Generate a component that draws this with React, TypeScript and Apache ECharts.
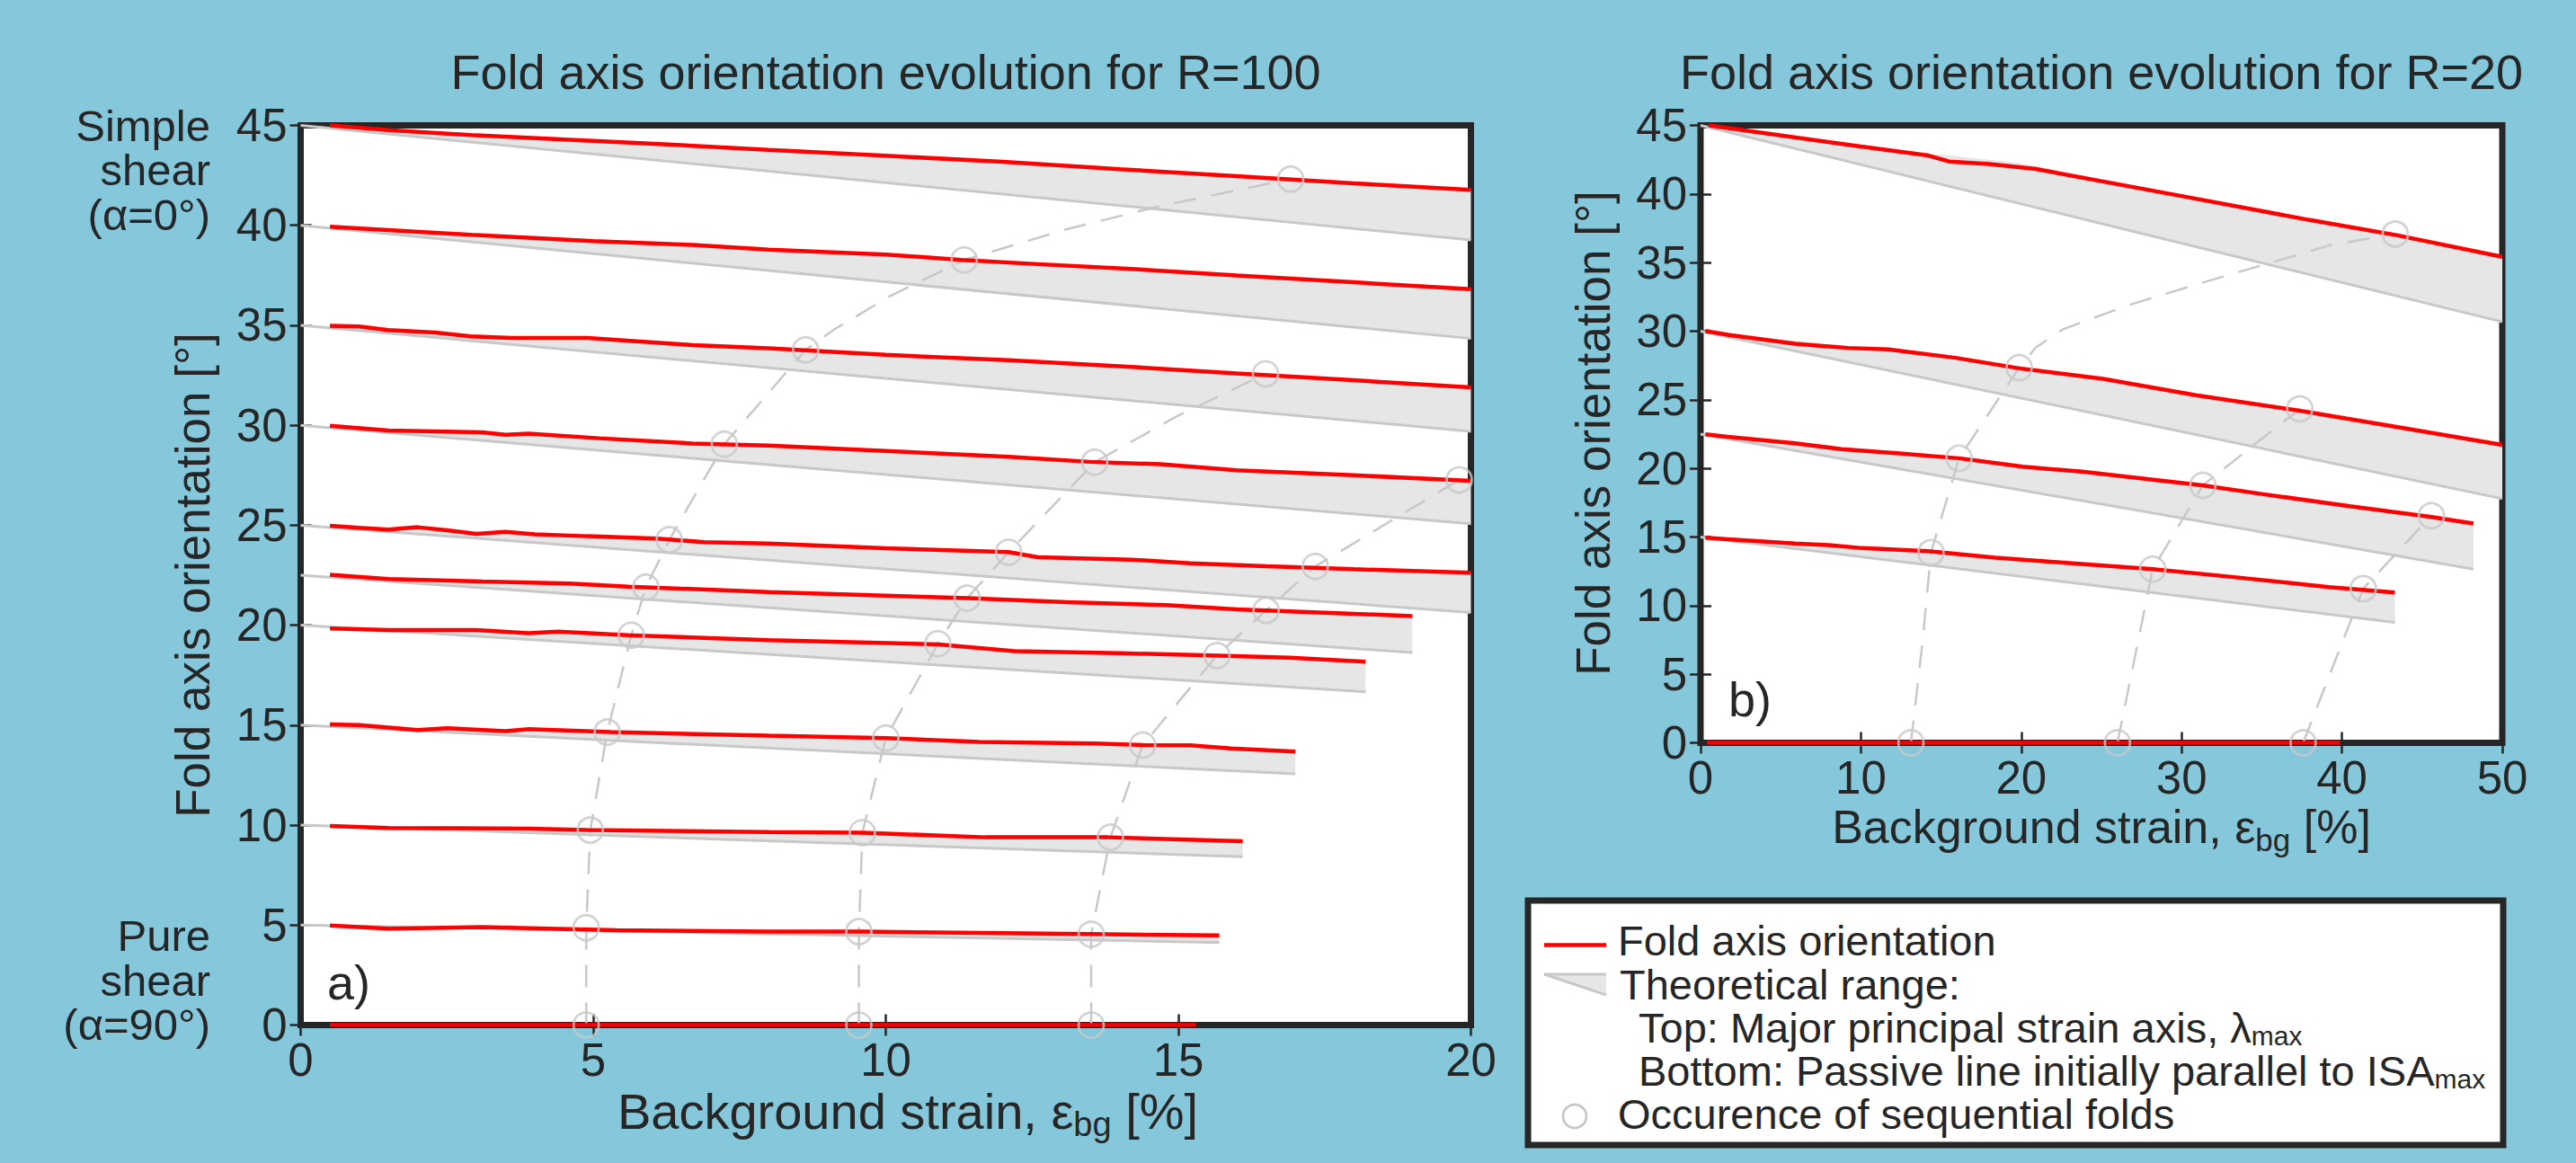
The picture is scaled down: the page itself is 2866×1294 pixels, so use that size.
import React, { useEffect, useRef } from "react";
import * as echarts from "echarts";

const FONT = "'Liberation Sans', Arial, Helvetica, sans-serif";
const INK = "#262626";
const RED = "#ff0000";
const GREY_LINE = "#c8c8c8";
const GREY_FILL = "#e6e6e6";
const BG = "#86c8db";

// ---------------- Panel a) R = 100 ----------------
const A_X_TICKS = [0, 5, 10, 15, 20];
const A_Y_TICKS = [0, 5, 10, 15, 20, 25, 30, 35, 40, 45];

// Fold axis orientation (red), one list per initial angle
const A_FOLD_45 = [[0.5, 45], [1.5, 44.76], [3, 44.5], [5, 44.23], [6.7, 43.98], [8, 43.78], [10, 43.48], [12, 43.18], [14, 42.81], [16, 42.46], [18, 42.1], [20, 41.77]];
const A_FOLD_40 = [[0.5, 39.93], [3, 39.51], [5, 39.21], [6.7, 39.02], [8, 38.79], [10, 38.54], [11.3, 38.27], [12.6, 38.06], [14.2, 37.82], [16, 37.49], [18, 37.15], [20, 36.81]];
const A_FOLD_35 = [[0.5, 34.98], [1, 34.94], [1.5, 34.76], [2.3, 34.64], [2.9, 34.45], [3.6, 34.37], [4.9, 34.37], [5.4, 34.27], [6.7, 34.01], [8, 33.85], [10, 33.52], [12.1, 33.26], [14.2, 32.92], [16, 32.59], [18, 32.25], [20, 31.9]];
const A_FOLD_30 = [[0.5, 29.97], [1.5, 29.74], [3.1, 29.65], [3.5, 29.52], [3.9, 29.58], [5.1, 29.35], [6.7, 29.09], [8, 28.99], [10, 28.72], [12.1, 28.42], [13.5, 28.17], [14.7, 28.05], [16, 27.75], [18, 27.5], [20, 27.22]];
const A_FOLD_25 = [[0.5, 24.97], [1, 24.87], [1.5, 24.78], [2, 24.9], [2.5, 24.75], [3, 24.57], [3.5, 24.67], [4, 24.55], [4.9, 24.45], [6.1, 24.33], [6.9, 24.15], [8, 24.08], [10, 23.85], [12.1, 23.66], [12.6, 23.4], [14.2, 23.28], [15.2, 23.1], [16.5, 22.95], [18, 22.8], [20, 22.62]];
const A_FOLD_22 = [[0.5, 22.52], [1.5, 22.31], [3.1, 22.19], [4.6, 22.08], [5.6, 21.93], [8, 21.66], [11.4, 21.35], [13.1, 21.15], [14.8, 21.0], [16, 20.79], [17, 20.68], [19, 20.46]];
const A_FOLD_20 = [[0.5, 19.84], [1.5, 19.76], [3, 19.76], [3.9, 19.6], [4.4, 19.68], [5.6, 19.5], [8, 19.25], [10.9, 19.04], [12.2, 18.7], [14, 18.6], [15.7, 18.48], [16.9, 18.37], [18.2, 18.17]];
const A_FOLD_15 = [[0.5, 15.04], [1, 15.0], [2, 14.76], [2.5, 14.85], [3.5, 14.7], [3.9, 14.8], [5.3, 14.65], [8, 14.47], [10, 14.35], [11.6, 14.16], [13.6, 14.08], [14.4, 14.0], [15.2, 13.99], [15.9, 13.83], [17, 13.68]];
const A_FOLD_10 = [[0.5, 9.96], [1.5, 9.86], [3.9, 9.82], [4.9, 9.75], [8, 9.65], [9.6, 9.62], [11.7, 9.39], [13.8, 9.39], [16.1, 9.19]];
const A_FOLD_5 = [[0.5, 4.98], [1.5, 4.82], [3.1, 4.9], [5.4, 4.74], [8, 4.67], [9.6, 4.67], [13.5, 4.55], [15.7, 4.48]];
const A_FOLD_0 = [[0.5, 0], [15.3, 0]];
const A_FOLD = [A_FOLD_45, A_FOLD_40, A_FOLD_35, A_FOLD_30, A_FOLD_25, A_FOLD_22, A_FOLD_20, A_FOLD_15, A_FOLD_10, A_FOLD_5, A_FOLD_0];

// Theoretical range: top = major principal strain axis, bottom = passive line
const A_RANGE_TOP = [
  [[0, 45], [20, 41.8]],
  [[0, 40], [20, 36.85]],
  [[0, 35], [20, 31.95]],
  [[0, 30], [20, 27.25]],
  [[0, 25], [20, 22.65]],
  [[0, 22.5], [19, 20.5]],
  [[0, 20], [18.2, 18.2]],
  [[0, 15], [17, 13.7]],
  [[0, 10], [16.1, 9.2]],
  [[0, 5], [15.7, 4.5]],
];
const A_RANGE_BOTTOM = [
  [[0, 45], [20, 39.27]],
  [[0, 40], [20, 34.34]],
  [[0, 35], [20, 29.69]],
  [[0, 30], [20, 25.07]],
  [[0, 25], [20, 20.63]],
  [[0, 22.5], [19, 18.63]],
  [[0, 20], [18.2, 16.67]],
  [[0, 15], [17, 12.56]],
  [[0, 10], [16.1, 8.42]],
  [[0, 5], [15.7, 4.13]],
];

// Occurrence of sequential folds (circles) and the dashed paths through them
const A_SEQ_1 = [[4.88, 0], [4.88, 4.87], [4.95, 9.75], [5.24, 14.65], [5.65, 19.5], [5.9, 21.9], [6.3, 24.27], [7.24, 29.05], [8.63, 33.77], [11.34, 38.27], [16.92, 42.31]];
const A_SEQ_2 = [[9.54, 0], [9.54, 4.67], [9.6, 9.62], [10.0, 14.35], [10.89, 19.07], [11.39, 21.35], [12.1, 23.65], [13.57, 28.15], [16.49, 32.57]];
const A_SEQ_3 = [[13.51, 0], [13.51, 4.54], [13.84, 9.39], [14.39, 14.0], [15.66, 18.48], [16.5, 20.74], [17.34, 22.94], [19.8, 27.27]];
const A_PATH_1 = [[4.88, 0], [4.88, 4.87], [4.95, 9.75], [5.24, 14.65], [5.65, 19.5], [5.9, 21.9], [6.3, 24.27], [7.24, 29.05], [8.63, 33.77], [9.1, 34.76], [10.06, 36.44], [11.34, 38.27], [13.08, 39.8], [14.64, 40.93], [16.92, 42.31]];
const A_PATH_2 = [[9.54, 0], [9.54, 4.67], [9.6, 9.62], [10.0, 14.35], [10.89, 19.07], [11.39, 21.35], [12.1, 23.65], [13.57, 28.15], [14.97, 30.44], [16.49, 32.57]];
const A_PATH_3 = [[13.51, 0], [13.51, 4.54], [13.84, 9.39], [14.39, 14.0], [15.66, 18.48], [16.5, 20.74], [17.34, 22.94], [19.8, 27.27]];

// ---------------- Panel b) R = 20 ----------------
const B_X_TICKS = [0, 10, 20, 30, 40, 50];
const B_Y_TICKS = [0, 5, 10, 15, 20, 25, 30, 35, 40, 45];

const B_FOLD_45 = [[0.5, 45], [10, 43.46], [14.2, 42.8], [15.5, 42.37], [18, 42.19], [20.9, 41.82], [30, 39.85], [38, 38.1], [43.4, 37.0], [50, 35.42]];
const B_FOLD_30 = [[0.3, 30.02], [1.7, 29.74], [5.9, 29.08], [9.2, 28.78], [11.7, 28.67], [15.9, 28.06], [19.9, 27.29], [25.1, 26.53], [30.9, 25.33], [37.2, 24.23], [43.4, 23.03], [50, 21.72]];
const B_FOLD_22 = [[0.3, 22.49], [1.7, 22.31], [5.9, 21.83], [8.8, 21.4], [12.6, 21.07], [16.1, 20.74], [20.1, 20.13], [23.8, 19.76], [31.3, 18.77], [35.1, 18.12], [40.5, 17.25], [45.5, 16.48], [48.2, 15.98]];
const B_FOLD_15 = [[0.3, 14.95], [1.7, 14.84], [5.9, 14.52], [8, 14.41], [10.1, 14.19], [14.2, 13.97], [18.4, 13.49], [22.6, 13.14], [28.2, 12.66], [33, 12.11], [39.2, 11.35], [43.3, 10.96]];
const B_FOLD_0 = [[0.4, 0], [39.9, 0]];
const B_FOLD = [B_FOLD_45, B_FOLD_30, B_FOLD_22, B_FOLD_15, B_FOLD_0];

const B_RANGE_TOP = [
  [[0, 45], [10, 43.5], [20, 42.25], [30, 39.9], [40, 37.7], [50, 35.42]],
  [[0, 30], [10, 28.8], [20, 27.3], [30, 25.5], [40, 23.6], [50, 21.72]],
  [[0, 22.5], [10, 21.3], [20, 20.1], [30, 18.9], [40, 17.3], [48.2, 15.98]],
  [[0, 15], [10, 14.2], [20, 13.35], [30, 12.5], [43.3, 10.96]],
];
const B_RANGE_BOTTOM = [
  [[0, 45], [50, 30.68]],
  [[0, 30], [50, 17.79]],
  [[0, 22.5], [48.2, 12.66]],
  [[0, 15], [43.3, 8.77]],
];

const B_SEQ_1 = [[13.12, 0], [14.37, 13.86], [16.12, 20.74], [19.87, 27.34], [43.33, 37.08]];
const B_SEQ_2 = [[26.0, 0], [28.2, 12.66], [31.33, 18.77], [37.37, 24.34]];
const B_SEQ_3 = [[37.58, 0], [41.33, 11.24], [45.58, 16.55]];
const B_PATH_1 = [[13.12, 0], [13.83, 7.2], [14.37, 13.86], [16.12, 20.74], [19.87, 27.34], [20.9, 28.8], [22.58, 30.13], [26.7, 31.9], [30.9, 33.4], [35.1, 34.83], [39.2, 36.25], [43.33, 37.08]];
const B_PATH_2 = [[26.0, 0], [28.2, 12.66], [31.33, 18.77], [37.37, 24.34]];
const B_PATH_3 = [[37.58, 0], [41.33, 11.24], [45.58, 16.55]];

// ---------------- texts ----------------
const TITLE_A = "Fold axis orientation evolution for R=100";
const TITLE_B = "Fold axis orientation evolution for R=20";
const Y_LABEL = "Fold axis orientation [°]";
const X_LABEL_MAIN = "Background strain, ε";
const X_LABEL_SUB = "bg";
const X_LABEL_END = " [%]";
const SIMPLE_SHEAR = ["Simple", "shear", "(α=0°)"];
const PURE_SHEAR = ["Pure", "shear", "(α=90°)"];
const LEGEND_FOLD = "Fold axis orientation";
const LEGEND_RANGE = "Theoretical range:";
const LEGEND_TOP = "Top: Major principal strain axis, λ";
const LEGEND_BOTTOM = "Bottom: Passive line initially parallel to ISA";
const LEGEND_SUB = "max";
const LEGEND_SEQ = "Occurence of sequential folds";

// ---------------- layout ----------------
const GRID_A = { left: 334.5, top: 139.5, width: 1302, height: 1001 };
const GRID_B = { left: 1892, top: 139.5, width: 892, height: 687 };

function axisPair(ticks: number[], gridIndex: number, dim: "x" | "y") {
  const min = ticks[0];
  const max = ticks[ticks.length - 1];
  const interval = ticks[1] - ticks[0];
  const common = {
    type: "value",
    gridIndex,
    min,
    max,
    interval,
    splitLine: { show: false },
    axisLine: { show: false },
    axisTick: { show: true, inside: true, length: 12, lineStyle: { color: INK, width: 2.5 } },
  };
  const main = {
    ...common,
    position: dim === "x" ? "bottom" : "left",
    axisLabel: {
      show: true,
      fontSize: 51,
      fontFamily: FONT,
      color: INK,
      margin: dim === "x" ? 13 : 15,
      showMinLabel: true,
      showMaxLabel: true,
    },
  };
  const opp = {
    ...common,
    position: dim === "x" ? "top" : "right",
    axisLabel: { show: false },
  };
  return [main, opp];
}

function lineS(data: number[][], xi: number, yi: number, color: string, width: number, z: number, type: any = "solid", clip = true) {
  return {
    type: "line",
    xAxisIndex: xi,
    yAxisIndex: yi,
    data,
    showSymbol: false,
    symbol: "none",
    lineStyle: { color, width, type },
    z,
    clip,
    silent: true,
  };
}

function bandS(tops: number[][][], bottoms: number[][][], xi: number, yi: number) {
  return {
    type: "custom",
    xAxisIndex: xi,
    yAxisIndex: yi,
    clip: false,
    silent: true,
    z: 1,
    data: bottoms.map((b) => b[0]),
    renderItem: (params: any, api: any) => {
      const i = params.dataIndex;
      const top = tops[i].map((p) => api.coord(p));
      const bot = bottoms[i].slice().reverse().map((p) => api.coord(p));
      return {
        type: "polygon",
        shape: { points: top.concat(bot) },
        style: { fill: GREY_FILL, stroke: null },
      };
    },
  };
}

function circlesS(data: number[][], xi: number, yi: number) {
  return {
    type: "scatter",
    xAxisIndex: xi,
    yAxisIndex: yi,
    data,
    symbol: "circle",
    symbolSize: 28,
    clip: false,
    silent: true,
    z: 5,
    itemStyle: { color: "rgba(0,0,0,0)", borderColor: GREY_LINE, borderWidth: 2.7 },
  };
}

function text(x: number, y: number, s: string, fontSize: number, align = "center", rotation = 0, lineHeight?: number) {
  const style: any = { text: s, fontSize, fontFamily: FONT, fill: INK, align, verticalAlign: "middle" };
  if (lineHeight) style.lineHeight = lineHeight;
  return { type: "text", x, y, rotation, silent: true, style };
}

// Text with a lowered, smaller subscript; line box kept compact
function subText(x: number, y: number, parts: [string, boolean][], F: number, Fs: number, mainLH: number, P: number, align = "left") {
  const str = parts.map(([t, sub]) => `{${sub ? "s" : "m"}|${t}}`).join("");
  return {
    type: "text",
    x,
    y,
    silent: true,
    style: {
      text: str,
      fontSize: F,
      fontFamily: FONT,
      fill: INK,
      align,
      verticalAlign: "middle",
      rich: {
        m: { fontSize: F, fontFamily: FONT, fill: INK, lineHeight: mainLH, verticalAlign: "middle" },
        s: { fontSize: Fs, fontFamily: FONT, fill: INK, lineHeight: 20, padding: [P, 0, 0, 0], verticalAlign: "middle" },
      },
    },
  };
}

function buildOption() {
  const [ax0, ax1] = axisPair(A_X_TICKS, 0, "x");
  const [ay0, ay1] = axisPair(A_Y_TICKS, 0, "y");
  const [bx0, bx1] = axisPair(B_X_TICKS, 1, "x");
  const [by0, by1] = axisPair(B_Y_TICKS, 1, "y");

  const series: any[] = [];
  // Panel a (x axes 0/1, y axes 0/1)
  series.push(bandS(A_RANGE_TOP, A_RANGE_BOTTOM, 0, 0));
  A_RANGE_BOTTOM.forEach((b) => series.push(lineS(b, 0, 0, GREY_LINE, 3, 2)));
  [A_PATH_1, A_PATH_2, A_PATH_3].forEach((p) => series.push(lineS(p, 0, 0, GREY_LINE, 2.5, 3, [25, 17], false)));
  A_FOLD.forEach((f) => series.push(lineS(f, 0, 0, RED, 4.5, 4)));
  series.push(circlesS([...A_SEQ_1, ...A_SEQ_2, ...A_SEQ_3], 0, 0));
  // Panel b (x axes 2/3, y axes 2/3)
  series.push(bandS(B_RANGE_TOP, B_RANGE_BOTTOM, 2, 2));
  B_RANGE_BOTTOM.forEach((b) => series.push(lineS(b, 2, 2, GREY_LINE, 3, 2)));
  [B_PATH_1, B_PATH_2, B_PATH_3].forEach((p) => series.push(lineS(p, 2, 2, GREY_LINE, 2.5, 3, [25, 17], false)));
  B_FOLD.forEach((f) => series.push(lineS(f, 2, 2, RED, 4.5, 4)));
  series.push(circlesS([...B_SEQ_1, ...B_SEQ_2, ...B_SEQ_3], 2, 2));

  const graphics: any[] = [
    text(985.5, 80, TITLE_A, 54),
    text(2338, 80, TITLE_B, 54),
    text(214, 640, Y_LABEL, 53, "center", Math.PI / 2),
    text(1772, 482, Y_LABEL, 53, "center", Math.PI / 2),
    subText(1010, 1236, [[X_LABEL_MAIN, false], [X_LABEL_SUB, true], [X_LABEL_END, false]], 56, 38, 50, 30, "center"),
    subText(2338, 920, [[X_LABEL_MAIN, false], [X_LABEL_SUB, true], [X_LABEL_END, false]], 52, 35, 48, 28, "center"),
    text(364, 1093, "a)", 54, "left"),
    text(1923, 778, "b)", 54, "left"),
    text(234, 189, SIMPLE_SHEAR.join("\n"), 49, "right", 0, 49.5),
    text(234, 1090.5, PURE_SHEAR.join("\n"), 49, "right", 0, 49.5),
  ];

  // Legend box
  graphics.push({
    type: "rect",
    silent: true,
    shape: { x: 1700, y: 1002, width: 1085, height: 272 },
    style: { fill: "#ffffff", stroke: INK, lineWidth: 7 },
  });
  graphics.push({ type: "line", silent: true, shape: { x1: 1718, y1: 1051.5, x2: 1787, y2: 1051.5 }, style: { stroke: RED, lineWidth: 4.5 } });
  graphics.push({ type: "polygon", silent: true, shape: { points: [[1718, 1084], [1787, 1084], [1787, 1107]] }, style: { fill: GREY_FILL } });
  graphics.push({ type: "line", silent: true, shape: { x1: 1718, y1: 1084, x2: 1787, y2: 1084 }, style: { stroke: GREY_LINE, lineWidth: 3 } });
  graphics.push({ type: "line", silent: true, shape: { x1: 1718, y1: 1084, x2: 1787, y2: 1107 }, style: { stroke: GREY_LINE, lineWidth: 3 } });
  graphics.push({ type: "circle", silent: true, shape: { cx: 1752, cy: 1242, r: 13 }, style: { fill: "none", stroke: GREY_LINE, lineWidth: 2.7 } });
  graphics.push(text(1800, 1046, LEGEND_FOLD, 47, "left"));
  graphics.push(text(1802, 1095, LEGEND_RANGE, 47, "left"));
  graphics.push(subText(1823, 1143, [[LEGEND_TOP, false], [LEGEND_SUB, true]], 47, 30, 44, 18, "left"));
  graphics.push(subText(1823, 1191, [[LEGEND_BOTTOM, false], [LEGEND_SUB, true]], 47, 30, 44, 18, "left"));
  graphics.push(text(1800, 1239, LEGEND_SEQ, 47, "left"));

  return {
    animation: false,
    backgroundColor: BG,
    textStyle: { fontFamily: FONT },
    grid: [
      { ...GRID_A, show: true, backgroundColor: "#ffffff", borderColor: INK, borderWidth: 7, containLabel: false, outerBoundsMode: "none" },
      { ...GRID_B, show: true, backgroundColor: "#ffffff", borderColor: INK, borderWidth: 7, containLabel: false, outerBoundsMode: "none" },
    ],
    xAxis: [ax0, ax1, bx0, bx1],
    yAxis: [ay0, ay1, by0, by1],
    series,
    graphic: graphics,
  };
}

export default function App() {
  const ref = useRef<HTMLDivElement>(null);
  useEffect(() => {
    if (!ref.current) return;
    const chart = echarts.init(ref.current, null, { renderer: "svg" });
    chart.setOption(buildOption() as any);
    return () => chart.dispose();
  }, []);
  return (
    <div
      ref={ref}
      style={{ position: "fixed", left: 0, top: 0, width: 2866, height: 1294 }}
    />
  );
}
